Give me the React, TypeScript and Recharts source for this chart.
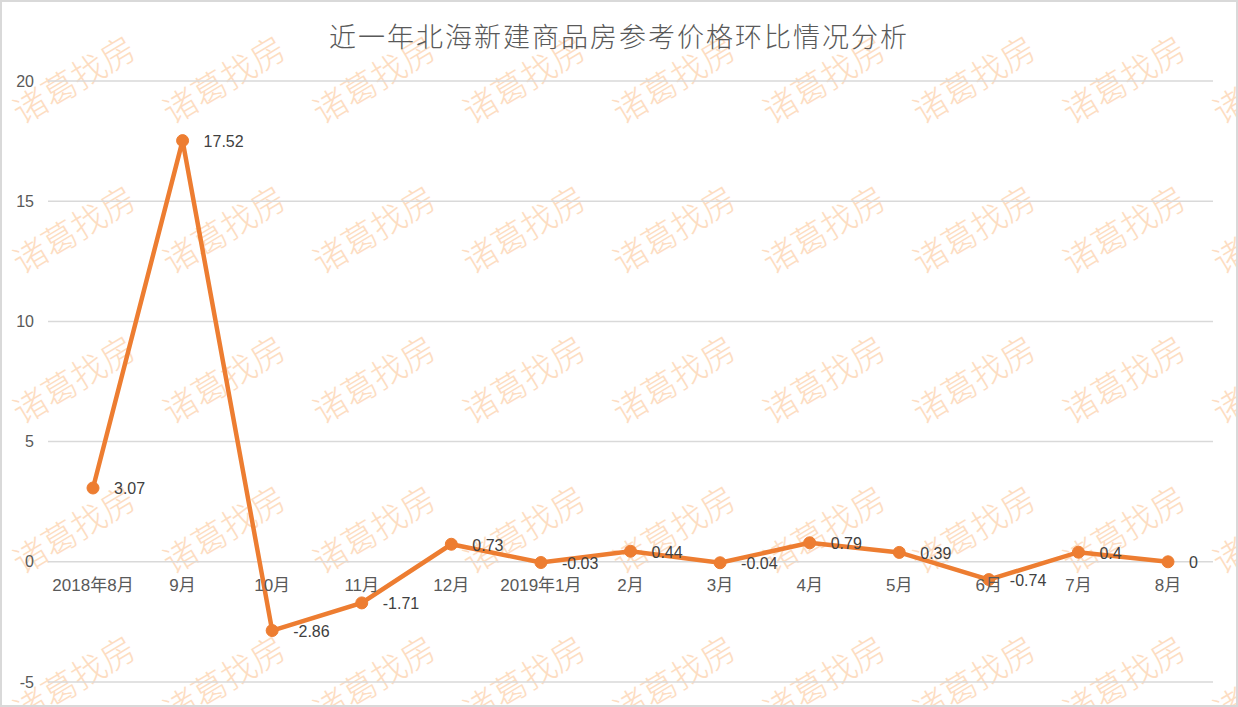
import React from "react";
import { LineChart, Line, XAxis, YAxis, CartesianGrid, LabelList } from "recharts";

const months = ["2018年8月", "9月", "10月", "11月", "12月", "2019年1月", "2月", "3月", "4月", "5月", "6月", "7月", "8月"];
const changes = [3.07, 17.52, -2.86, -1.71, 0.73, -0.03, 0.44, -0.04, 0.79, 0.39, -0.74, 0.4, 0];
const yTicks = [-5, 0, 5, 10, 15, 20];
const title = "近一年北海新建商品房参考价格环比情况分析";
const watermarkText = "诸葛找房";
const wmCols = [73, 223, 373, 523, 673, 823, 973, 1123, 1273];
const wmRows = [78, 228, 378, 528, 678];

const data = months.map((m, i) => ({ month: m, value: changes[i], zero: 0 }));

const W = 1238;
const H = 707;
const FONT = "'Liberation Sans', 'Noto Sans CJK SC', sans-serif";
const ORANGE = "#ED7D31";

const ValueLabel = (props: any) => {
  const { x, y, value } = props;
  return (
    <text x={x + 21} y={y + 1} dominantBaseline="central" textAnchor="start" fontSize={16} fill="#404040" fontFamily={FONT}>
      {String(value)}
    </text>
  );
};

const CatLabel = (props: any) => {
  const { x, y, value } = props;
  return (
    <text x={x} y={y + 24} dominantBaseline="central" textAnchor="middle" fontSize={17} fill="#595959" fontFamily={FONT}>
      {value}
    </text>
  );
};

export default function App() {
  return (
    <div style={{ position: "absolute", left: 0, top: 0, width: W, height: H, background: "#fff", overflow: "hidden" }}>
      <svg width={W} height={H} style={{ position: "absolute", left: 0, top: 0 }}>
        {wmRows.map((ry) =>
          wmCols.map((cx) => (
            <text
              key={`${cx}-${ry}`}
              x={cx}
              y={ry}
              transform={`rotate(-31 ${cx} ${ry})`}
              textAnchor="middle"
              dominantBaseline="central"
              fontSize={34}
              fill="#FDDDC2"
              fontFamily="'Noto Sans CJK SC', sans-serif"
              fontWeight={300}
            >
              {watermarkText}
            </text>
          ))
        )}
        <text
          x={W / 2}
          y={35}
          textAnchor="middle"
          dominantBaseline="central"
          fontSize={27}
          letterSpacing={2}
          fill="#595959"
          fontFamily="'Noto Sans CJK SC', sans-serif"
          fontWeight={300}
        >
          {title}
        </text>
        <rect x={1} y={1} width={W - 2} height={H - 2} fill="none" stroke="#D9D9D9" strokeWidth={2} />
      </svg>
      <div style={{ position: "absolute", left: 0, top: 0 }}>
        <LineChart width={W} height={H} data={data} margin={{ top: 81, right: 25, bottom: 25, left: 0 }}>
          <CartesianGrid vertical={false} stroke="#D9D9D9" strokeWidth={1.5} />
          <XAxis dataKey="month" hide padding={{ left: 45, right: 45 }} />
          <YAxis
            domain={[-5, 20]}
            ticks={yTicks}
            width={48}
            axisLine={false}
            tickLine={false}
            tickSize={0}
            tickMargin={14}
            tick={{ fontSize: 16, fill: "#595959", fontFamily: FONT }}
          />
          <Line
            dataKey="zero"
            stroke="none"
            dot={false}
            activeDot={false}
            isAnimationActive={false}
            legendType="none"
          >
            <LabelList dataKey="month" content={CatLabel} />
          </Line>
          <Line
            dataKey="value"
            stroke={ORANGE}
            strokeWidth={4.5}
            dot={{ r: 6, fill: ORANGE, stroke: ORANGE, strokeWidth: 1 }}
            activeDot={false}
            isAnimationActive={false}
          >
            <LabelList dataKey="value" content={ValueLabel} />
          </Line>
        </LineChart>
      </div>
    </div>
  );
}
